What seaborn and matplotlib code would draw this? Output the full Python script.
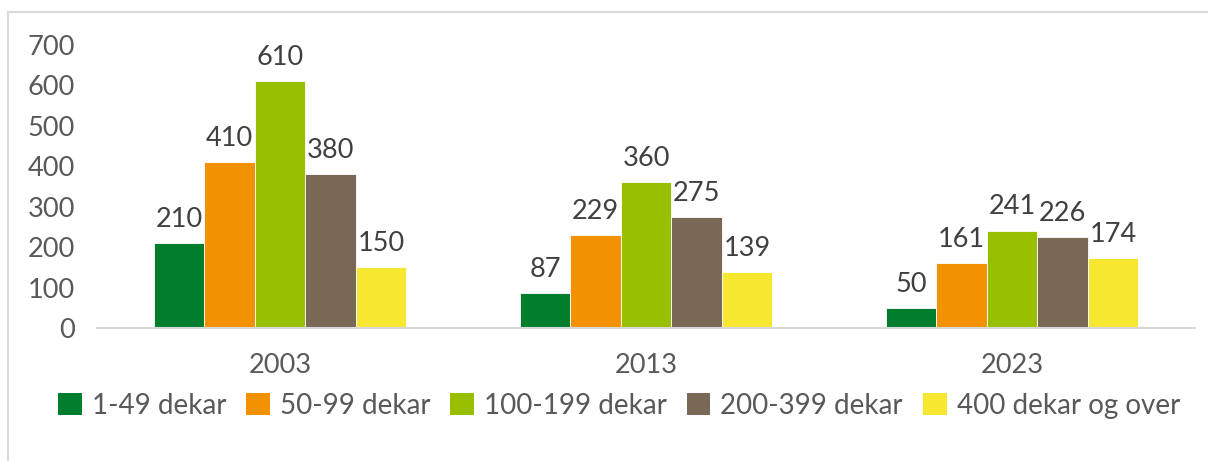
import matplotlib
matplotlib.use("Agg")
import matplotlib.pyplot as plt
from matplotlib.patches import Patch, Rectangle
import seaborn as sns
import pandas as pd

years = ["2003", "2013", "2023"]
categories = ["1-49 dekar", "50-99 dekar", "100-199 dekar", "200-399 dekar", "400 dekar og over"]
v_1_49 = [210, 87, 50]
v_50_99 = [410, 229, 161]
v_100_199 = [610, 360, 241]
v_200_399 = [380, 275, 226]
v_400_plus = [150, 139, 174]
colors = ["#007E2D", "#F39200", "#99C000", "#7A6856", "#F7E731"]
yticks = [0, 100, 200, 300, 400, 500, 600, 700]

series = [v_1_49, v_50_99, v_100_199, v_200_399, v_400_plus]
rows = []
for cat, vals in zip(categories, series):
    for y, v in zip(years, vals):
        rows.append({"year": y, "category": cat, "value": v})
df = pd.DataFrame(rows)

sns.set_theme(style="white")
plt.rcParams["font.family"] = ["Lato", "DejaVu Sans"]
text_color = "#595959"
fs = 19.5

fig = plt.figure(figsize=(12.08, 4.61), dpi=100)
ax = fig.add_axes([97/1208, (461-328)/461, (1195-97)/1208, (328-45)/461])

sns.barplot(data=df, x="year", y="value", hue="category", order=years,
            hue_order=categories, palette=colors, width=0.69, ax=ax,
            saturation=1, legend=False, edgecolor="white", linewidth=0.6)

for cont in ax.containers:
    ax.bar_label(cont, labels=[f"{int(v)}" for v in cont.datavalues],
                 padding=8, fontsize=fs, color="#404040")

ax.set_ylim(0, 700)
ax.set_yticks(yticks)
ax.set_xlim(-0.5, 2.5)
ax.set_xlabel("")
ax.set_ylabel("")
ax.tick_params(axis="y", labelsize=fs, labelcolor=text_color, pad=16, length=0)
ax.tick_params(axis="x", labelsize=fs, labelcolor=text_color, pad=18, length=0)
for s in ["top", "right", "left"]:
    ax.spines[s].set_visible(False)
ax.spines["bottom"].set_color("#D9D9D9")
ax.spines["bottom"].set_linewidth(1.5)

handles = [Patch(facecolor=c, edgecolor="none") for c in colors]
fig.legend(handles, categories, loc="center", bbox_to_anchor=(619/1208, (461-406)/461),
           ncol=5, frameon=False, fontsize=20, labelcolor=text_color,
           handlelength=0.85, handleheight=0.85, handletextpad=0.36, columnspacing=0.72)

fig.patches.append(Rectangle((8/1208, -0.1), 1.2, 1.0 + 0.1 - 12/461,
                             transform=fig.transFigure, fill=False,
                             edgecolor="#D9D9D9", linewidth=1.5, zorder=0))

fig.savefig("out.png", dpi=100, facecolor="white")
